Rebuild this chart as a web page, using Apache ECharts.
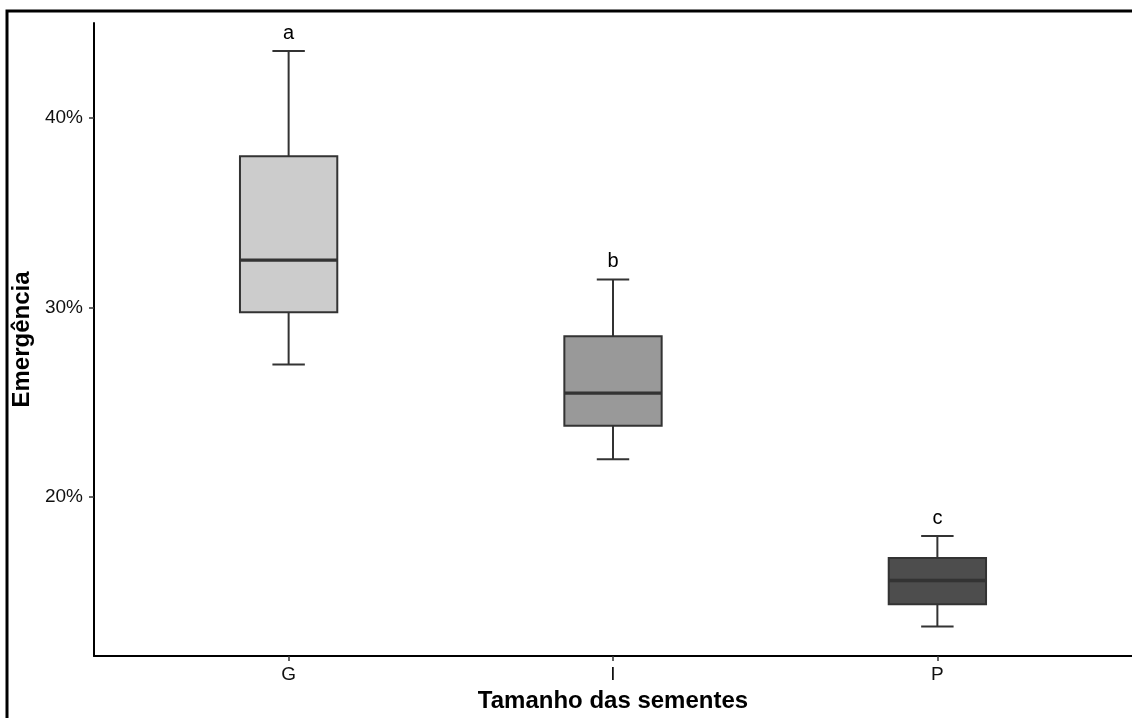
<!DOCTYPE html>
<html>
<head>
<meta charset="utf-8">
<script src="https://cdn.jsdelivr.net/npm/echarts@6/dist/echarts.min.js"></script>
<style>
html,body{margin:0;padding:0;background:#fff;}
#chart{width:1132px;height:718px;}
</style>
</head>
<body>
<div id="chart"></div>
<script>
// ---- data ----
const categories = ['G', 'I', 'P'];
const minVals = [27.0, 22.0, 13.18];
const q1Vals = [29.75, 23.77, 14.36];
const medVals = [32.5, 25.49, 15.61];
const q3Vals = [37.98, 28.49, 16.79];
const maxVals = [43.52, 31.48, 17.95];
const letters = ['a', 'b', 'c'];
const yTicks = [20, 30, 40];

// ---- styles ----
const fills = ['#cccccc', '#999999', '#4d4d4d'];
const FONT = '"Liberation Sans", Arial, sans-serif';

const seriesData = categories.map((c, i) => [i + 1, minVals[i], q1Vals[i], medVals[i], q3Vals[i], maxVals[i], i]);

const chart = echarts.init(document.getElementById('chart'), null, {renderer: 'canvas'});

function renderItem(params, api) {
  const x = api.value(0);
  const idx = api.value(6);
  const pMin = api.coord([x, api.value(1)]);
  const pQ1 = api.coord([x, api.value(2)]);
  const pMed = api.coord([x, api.value(3)]);
  const pQ3 = api.coord([x, api.value(4)]);
  const pMax = api.coord([x, api.value(5)]);
  const boxW = api.size([0.3, 0])[0];
  const capW = api.size([0.1, 0])[0];
  const cx = pMed[0];
  const stroke = '#333333';
  const ls = {stroke: stroke, lineWidth: 2};
  return {
    type: 'group',
    children: [
      {type: 'line', shape: {x1: cx, y1: pMax[1], x2: cx, y2: pQ3[1]}, style: ls},
      {type: 'line', shape: {x1: cx, y1: pQ1[1], x2: cx, y2: pMin[1]}, style: ls},
      {type: 'line', shape: {x1: cx - capW / 2, y1: pMax[1], x2: cx + capW / 2, y2: pMax[1]}, style: ls},
      {type: 'line', shape: {x1: cx - capW / 2, y1: pMin[1], x2: cx + capW / 2, y2: pMin[1]}, style: ls},
      {type: 'rect', shape: {x: cx - boxW / 2, y: pQ3[1], width: boxW, height: pQ1[1] - pQ3[1]},
        style: {fill: fills[idx], stroke: stroke, lineWidth: 2}},
      {type: 'line', shape: {x1: cx - boxW / 2, y1: pMed[1], x2: cx + boxW / 2, y2: pMed[1]},
        style: {stroke: stroke, lineWidth: 3.4}},
      {type: 'text', x: cx, y: pMax[1] - 8,
        style: {text: letters[idx], fill: '#000', font: '20px ' + FONT, align: 'center', verticalAlign: 'bottom'}}
    ]
  };
}

const option = {
  backgroundColor: '#ffffff',
  animation: false,
  graphic: [{
    type: 'rect', z: 100, silent: true,
    shape: {x: 7, y: 11, width: 1300, height: 900},
    style: {fill: 'none', stroke: '#000', lineWidth: 3}
  }],
  grid: {left: 94, right: 0, top: 23, bottom: 62, containLabel: false},
  xAxis: {
    type: 'value', min: 0.4, max: 3.6,
    name: 'Tamanho das sementes', nameLocation: 'middle', nameGap: 31,
    nameTextStyle: {fontFamily: FONT, fontSize: 24, fontWeight: 'bold', color: '#000'},
    axisLine: {show: true, lineStyle: {color: '#000', width: 2}},
    axisTick: {show: true, length: 5, customValues: [1, 2, 3], lineStyle: {color: '#333', width: 1.5}},
    axisLabel: {show: true, customValues: [1, 2, 3], margin: 9,
      formatter: v => categories[Math.round(v) - 1] || '',
      fontFamily: FONT, fontSize: 19, color: '#111'},
    splitLine: {show: false}
  },
  yAxis: {
    type: 'value', min: 11.63, max: 45.0,
    name: 'Emergência', nameLocation: 'middle', nameGap: 60, nameRotate: 90,
    nameTextStyle: {fontFamily: FONT, fontSize: 24, fontWeight: 'bold', color: '#000'},
    axisLine: {show: true, lineStyle: {color: '#000', width: 2}},
    axisTick: {show: true, length: 5, customValues: yTicks, lineStyle: {color: '#333', width: 1.5}},
    axisLabel: {show: true, customValues: yTicks, margin: 11,
      formatter: v => v + '%',
      fontFamily: FONT, fontSize: 19, color: '#111'},
    splitLine: {show: false}
  },
  series: [{
    type: 'custom',
    renderItem: renderItem,
    encode: {x: 0, y: [1, 2, 3, 4, 5]},
    data: seriesData,
    clip: false
  }]
};
chart.setOption(option);
</script>
</body>
</html>
